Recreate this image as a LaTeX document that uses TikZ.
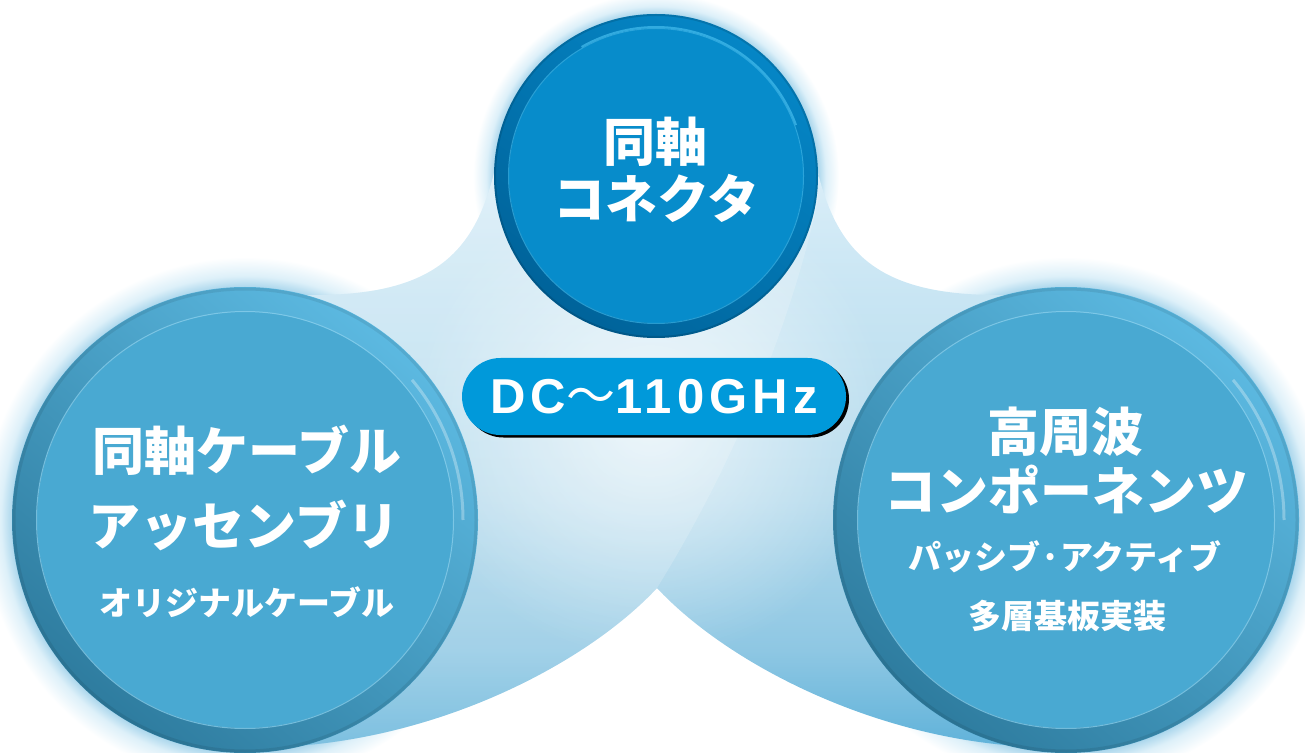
\documentclass[tikz,border=0pt]{standalone}
\usepackage{fontspec}
\newfontfamily\jp{Noto Sans CJK JP}
\newfontfamily\latin{Liberation Sans}[LetterSpace=10.5]
\usetikzlibrary{fadings}
\definecolor{tringL}{HTML}{0586C6}
\definecolor{tringD}{HTML}{00639A}
\definecolor{tdisk}{HTML}{078CCB}
\definecolor{tline}{HTML}{45BDEE}
\definecolor{bringL}{HTML}{5CB9E1}
\definecolor{bringD}{HTML}{2E7C9F}
\definecolor{bdisk}{HTML}{49A9D2}
\definecolor{bline}{HTML}{8ED2EE}
\definecolor{pillc}{HTML}{0099DA}
\definecolor{glowc}{HTML}{A6D4EB}
\definecolor{glowm}{HTML}{DDF0F9}
\definecolor{bA}{HTML}{DCEFF9}
\definecolor{bB}{HTML}{C8E5F3}
\definecolor{bC}{HTML}{B2D9EC}
\definecolor{bD}{HTML}{8EC7E3}
\definecolor{bE}{HTML}{5DB1D9}
\pgfdeclareverticalshading{blobshade}{100bp}{color(0bp)=(bE); color(25bp)=(bE); color(33.5bp)=(bD); color(46bp)=(bC); color(62.6bp)=(bB); color(75bp)=(bA); color(100bp)=(bA)}
\pgfdeclareradialshading{glow}{\pgfpoint{0bp}{0bp}}{color(0bp)=(glowc); color(22bp)=(glowc); color(23.2bp)=(glowm); color(25bp)=(white); color(50bp)=(white)}
\tikzfading[name=softcenter, inner color=transparent!0, outer color=transparent!100]
\begin{document}
\begin{tikzpicture}[x=0.5pt,y=-0.5pt,
  bigtext/.style={text=white, inner sep=0pt, font=\jp\bfseries\fontsize{26pt}{30pt}\selectfont},
  subtext/.style={text=white, inner sep=0pt, font=\jp\bfseries\fontsize{16.5pt}{20pt}\selectfont},
  pillbox/.style={rectangle, rounded corners=19.25pt, minimum width=192pt, minimum height=38.5pt, inner sep=0pt},
  hilite/.style={white, opacity=0.3, line width=1.5pt}]
\useasboundingbox (0,0) rectangle (1305,753);
% glows
\shade[shading=glow] (656,176) circle (183);
\shade[shading=glow] (245,520) circle (263);
\shade[shading=glow] (1066,520) circle (263);
% background blob
\begin{scope}
\clip (656,176) -- (499,150) .. controls (480,250) and (440,297) .. (305,295)
  -- (245,520) -- (295,746) .. controls (450,735) and (590,660) .. (657,588)
  .. controls (724,660) and (864,735) .. (1017,746) -- (1066,520) -- (1007,295)
  .. controls (872,297) and (832,250) .. (813,150) -- cycle;
\shade[shading=blobshade] (0,150) rectangle (1305,753);
\fill[white, fill opacity=0.7, path fading=softcenter] (650,420) circle (240);
\fill[white, fill opacity=0.18] (815,140) -- (818,200) .. controls (790,330) and (730,470) .. (657,588)
  -- (657,760) -- (-10,760) -- (-10,140) -- cycle;
\end{scope}
% top circle
\shade[top color=tringL, bottom color=tringD, shading angle=-35] (656,176) circle (162);
\draw[black, opacity=0.12, line width=1pt] (656,176) circle (161);
\fill[tdisk] (656,176) circle (147);
\draw[tline, opacity=0.6, line width=0.5pt] (656,176) circle (147.5);
\draw[tline, opacity=0.7, line width=1pt] (656,176) ++(-120:149) arc (-120:-20:149);
% left circle
\shade[top color=bringL, bottom color=bringD, shading angle=-40] (245,520) circle (233);
\draw[black, opacity=0.08, line width=1.5pt] (245,520) circle (231);
\fill[bdisk] (245,520) circle (208);
\draw[bline, opacity=0.7, line width=0.5pt] (245,520) circle (208.5);
\draw[hilite] (245,520) ++(-40:218) arc (-40:0:218);
% right circle
\shade[top color=bringL, bottom color=bringD, shading angle=-40] (1066,520) circle (233);
\draw[black, opacity=0.08, line width=1.5pt] (1066,520) circle (231);
\fill[bdisk] (1066,520) circle (208);
\draw[bline, opacity=0.7, line width=0.5pt] (1066,520) circle (208.5);
\draw[hilite] (1066,520) ++(-40:218) arc (-40:0:218);
% texts
\node[bigtext] (t1) at (655,142) {同軸};
\node[bigtext] (t2) at (656,198) {コネクタ};
\node[bigtext] (l1) at (247,450) {同軸ケーブル};
\node[bigtext] (l2) at (244,525) {アッセンブリ};
\node[subtext] (l3) at (247,602) {オリジナルケーブル};
\node[bigtext] (r1) at (1065,432) {高周波};
\node[bigtext] (r2) at (1066,489) {コンポーネンツ};
\node[subtext] (r3) at (1065,557) {パッシブ·アクティブ};
\node[subtext] (r4) at (1067,616) {多層基板実装};
% pill
\node[pillbox, fill=black] (rangeshadow) at (657,399) {};
\node[pillbox, fill=pillc, text=white, font=\bfseries\fontsize{24.5pt}{28pt}\selectfont] (range) at (654,396.5) {\latin DC\jp\mdseries～\latin\bfseries 110GHz};
\end{tikzpicture}
\end{document}
